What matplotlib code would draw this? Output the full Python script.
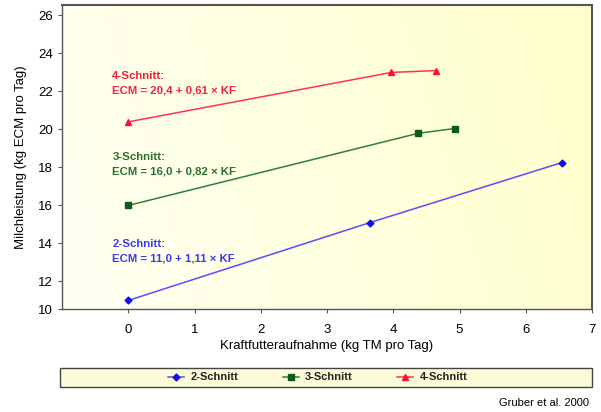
import numpy as np
import matplotlib
matplotlib.use("Agg")
import matplotlib.pyplot as plt
from matplotlib.patches import Rectangle
from matplotlib.colors import LinearSegmentedColormap

plt.rcParams['font.family'] = ['Liberation Sans', 'DejaVu Sans']

# data
kf_2 = [0.0, 3.65, 6.54]
ecm_2 = [11.0, 15.1, 18.25]
kf_3 = [0.0, 4.38, 4.93]
ecm_3 = [16.0, 19.8, 20.05]
kf_4 = [0.0, 3.97, 4.65]
ecm_4 = [20.4, 23.0, 23.1]

series_names = ['2-Schnitt', '3-Schnitt', '4-Schnitt']
equations = ['ECM = 11,0 + 1,11 × KF', 'ECM = 16,0 + 0,82 × KF', 'ECM = 20,4 + 0,61 × KF']
y_tick_vals = [10.55, 12, 14, 16, 18, 20, 22, 24, 26]
y_tick_labels = ['10', '12', '14', '16', '18', '20', '22', '24', '26']
x_tick_vals = [0, 1, 2, 3, 4, 5, 6, 7]

line_cols = ['#5a4dff', '#2f7f3a', '#ff3355']
mark_cols = ['#1010ee', '#0c5a1c', '#ff1030']
text_cols = ['#3a3af0', '#2a7030', '#f0203c']
markers = ['D', 's', '^']
msizes = [3.5, 4.5, 4.5]
label_pos = [(-0.24, 12.95), (-0.24, 17.55), (-0.24, 21.8)]

fig = plt.figure(figsize=(6.01, 4.12), dpi=100)
ax = fig.add_axes([62/601, 1-309/412, 530/601, 304/412])

# yellowish gradient background
cmap = LinearSegmentedColormap.from_list('bg', ['#fffff2', '#ffffcc'])
gx, gy = np.meshgrid(np.linspace(0, 1, 200), np.linspace(0, 1, 100))
ax.imshow(0.85*gx + 0.15*(1-gy), cmap=cmap, extent=[0, 1, 0, 1], transform=ax.transAxes,
          aspect='auto', zorder=0, interpolation='bilinear')

data = [(kf_2, ecm_2), (kf_3, ecm_3), (kf_4, ecm_4)]
for i, (xs, ys) in enumerate(data):
    ax.plot(xs, ys, color=line_cols[i], lw=1.1, marker=markers[i], ms=msizes[i],
            mfc=mark_cols[i], mec=mark_cols[i], label=series_names[i], zorder=3)
    lx, ly = label_pos[i]
    ax.text(lx, ly, series_names[i] + ':\n' + equations[i], color=text_cols[i],
            fontsize=8.2, fontweight='bold', linespacing=1.55, va='bottom', ha='left')

ax.set_xlim(-1, 7)
ax.set_ylim(10.55, 26.55)
ax.set_xticks(x_tick_vals)
ax.set_yticks(y_tick_vals)
ax.set_yticklabels(y_tick_labels)
ax.tick_params(labelsize=9.5, length=3, width=0.8, color='#555555')
ax.tick_params(axis='x', pad=8)
for s in ax.spines.values():
    s.set_color('#555555')
    s.set_linewidth(1.5)
ax.spines['left'].set_linewidth(1.0)
ax.spines['bottom'].set_linewidth(1.0)

ax.set_xlabel('Kraftfutteraufnahme (kg TM pro Tag)', fontsize=9.5, labelpad=3)
ax.set_ylabel('Milchleistung (kg ECM pro Tag)', fontsize=9.5, labelpad=8)

# legend box across the bottom
fig.patches.append(Rectangle((60/601, 1-387/412), 532/601, 19/412, transform=fig.transFigure,
                             facecolor='#fbfbd8', edgecolor='#444444', lw=1.0))
handles, labels = ax.get_legend_handles_labels()
leg = fig.legend(handles, labels, loc='center', bbox_to_anchor=(318/601, 1-377.5/412),
                 ncol=3, frameon=False, handlelength=1.4, columnspacing=4.0,
                 handletextpad=0.6, prop={'size': 8, 'weight': 'bold'})
for t in leg.get_texts():
    t.set_color('#222222')

fig.text(589/601, 1-403/412, 'Gruber et al. 2000', ha='right', va='center', fontsize=8)

fig.savefig('out.png', dpi=100)
